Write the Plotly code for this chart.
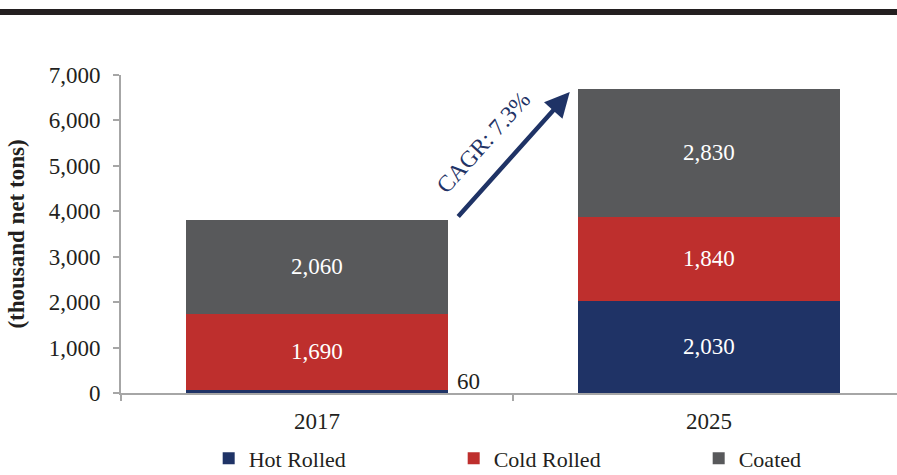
import plotly.graph_objects as go

# Shipment mix by product (thousand net tons)
years = ["2017", "2025"]
hot_rolled = [60, 2030]
cold_rolled = [1690, 1840]
coated = [2060, 2830]
totals = [h + c + o for h, c, o in zip(hot_rolled, cold_rolled, coated)]
cagr_label = "CAGR: 7.3%"

NAVY = "#1F3366"
RED = "#BE2F2D"
GRAY = "#58595B"
SERIF = "Liberation Serif, Times New Roman, serif"
TEXT = "#231F20"


def fmt(v):
    return f"{v:,}"


def inside_labels(values):
    # the tiny 2017 hot-rolled slice gets its label beside the bar instead
    return [fmt(v) if v >= 300 else "" for v in values]


fig = go.Figure()
for name, vals, color in [
    ("Hot Rolled", hot_rolled, NAVY),
    ("Cold Rolled", cold_rolled, RED),
    ("Coated", coated, GRAY),
]:
    fig.add_trace(go.Bar(
        name=name,
        x=years,
        y=vals,
        marker=dict(color=color, line=dict(width=0)),
        width=0.668,
        text=inside_labels(vals),
        textposition="inside",
        insidetextanchor="middle",
        textfont=dict(family=SERIF, size=23, color="white"),
        constraintext="none",
        hoverinfo="skip",
    ))

# totals above each stack
for yr, tot in zip(years, totals):
    fig.add_annotation(
        x=yr, y=tot, text=f"<b>{fmt(tot)}</b>", showarrow=False,
        yanchor="bottom", yshift=10,
        font=dict(family=SERIF, size=23, color=TEXT),
    )

# small hot-rolled label next to the 2017 bar
fig.add_annotation(
    x=0.352, y=hot_rolled[0], text=fmt(hot_rolled[0]), showarrow=False,
    xanchor="left", yanchor="middle", yshift=9,
    font=dict(family=SERIF, size=23, color=TEXT),
)

# growth arrow between the two stacks
fig.add_annotation(
    x=0.645, y=6626, ax=0.357, ay=3852, xref="x", yref="y",
    axref="x", ayref="y", text="", showarrow=True,
    arrowhead=2, arrowsize=1.1, arrowwidth=4.5, arrowcolor=NAVY,
)
fig.add_annotation(
    x=0.425, y=5520, text=cagr_label, showarrow=False, textangle=-48,
    font=dict(family=SERIF, size=23.5, color=NAVY),
)

# heavy rule across the top of the page
fig.add_shape(
    type="rect", xref="paper", yref="paper",
    x0=-0.2, x1=1.05, y0=(393 - 15) / 318, y1=(393 - 9) / 318,
    fillcolor="#231F20", line=dict(width=0), layer="above",
)

fig.update_layout(
    barmode="stack",
    width=897, height=475,
    margin=dict(l=121, r=0, t=75, b=82, autoexpand=False),
    paper_bgcolor="white", plot_bgcolor="white",
    font=dict(family=SERIF, size=23, color=TEXT),
    showlegend=True,
    legend=dict(
        orientation="h", xref="paper", yref="paper",
        x=0.113, y=-0.14, xanchor="left", yanchor="top",
        font=dict(family=SERIF, size=22, color=TEXT),
        entrywidth=200, entrywidthmode="pixels",
        traceorder="normal", itemwidth=30,
        bgcolor="rgba(0,0,0,0)",
    ),
    xaxis=dict(
        range=[-0.5, 1.48], showgrid=False, zeroline=False,
        showline=True, linecolor="#A6A6A6", linewidth=2,
        ticks="outside", tickson="boundaries", ticklen=6,
        tickcolor="#A6A6A6", tickwidth=2, ticklabelstandoff=6,
        tickfont=dict(family=SERIF, size=23, color=TEXT),
    ),
    yaxis=dict(
        range=[0, 7000], dtick=1000, tickformat=",", showgrid=False,
        zeroline=False, showline=True, linecolor="#A6A6A6", linewidth=2,
        ticks="outside", ticklen=6, tickcolor="#A6A6A6", tickwidth=2,
        ticklabelstandoff=8,
        tickfont=dict(family=SERIF, size=23, color=TEXT),
        title=dict(text="<b>(thousand net tons)</b>", standoff=18,
                   font=dict(family=SERIF, size=23, color=TEXT)),
    ),
)

fig.write_html("out.html")
